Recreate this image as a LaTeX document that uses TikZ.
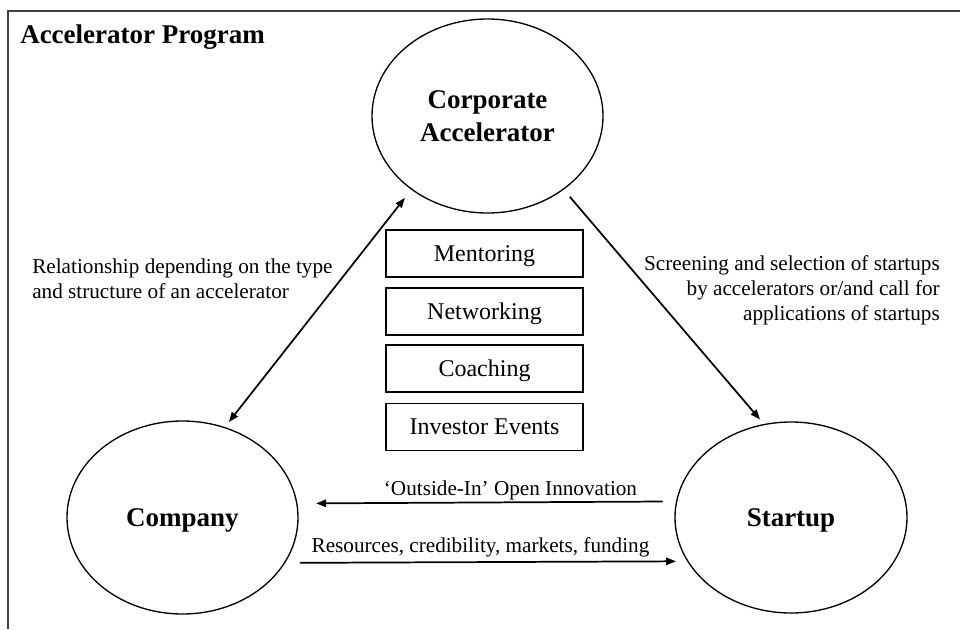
\documentclass[tikz,border=0pt]{standalone}
\usepackage{fontspec}
\setmainfont{Liberation Serif}
\usetikzlibrary{arrows.meta,shapes.geometric}
\begin{document}
\begin{tikzpicture}[x=0.75pt,y=-0.75pt,
  >={Triangle[length=7.5pt,width=5.5pt]},
  oval/.style={draw, ellipse, line width=1pt, inner sep=0pt, outer sep=0pt,
    text depth=0pt, align=center,
    font=\fontsize{20.25}{24.5}\selectfont\bfseries},
  item/.style={draw, line width=1.1pt, minimum width=147.75pt, minimum height=35.25pt,
    inner sep=0pt, text depth=0pt, font=\fontsize{18}{21}\selectfont},
  lbl/.style={inner sep=0pt, font=\fontsize{15.9}{18.6}\selectfont},
  conn/.style={line width=1.3pt},
]
\useasboundingbox (0,0) rectangle (960,629);
\draw[line width=1.2pt, black!75] (8,629) -- (8,11) -- (960,11);

\node[anchor=base west, inner sep=0pt, font=\fontsize{20.25}{24}\selectfont\bfseries]
  (title) at (20,43) {Accelerator Program};

\node[oval, minimum width=173.25pt, minimum height=145.5pt] (corp) at (487.5,116) {Corporate\\Accelerator};
\node[oval, minimum width=173.25pt, minimum height=144.75pt] (company) at (182.5,517.5) {Company};
\node[oval, minimum width=174pt, minimum height=143.25pt] (startup) at (791,517.5) {Startup};

\node[item] (b1) at (484.5,253.5) {Mentoring};
\node[item] (b2) at (484.5,311.5) {Networking};
\node[item] (b3) at (484.5,368.5) {Coaching};
\node[item] (b4) at (484.5,427) {Investor Events};

\node[lbl, anchor=west, align=left] (rel) at (32,278.5)
  {Relationship depending on the type\\and structure of an accelerator};
\node[lbl, anchor=east, align=right] (scr) at (940,290.5)
  {Screening and selection of startups\\by accelerators or/and call for\\applications of startups};
\node[lbl, anchor=base] (oi) at (510.5,495) {‘Outside-In’ Open Innovation};
\node[lbl, anchor=base] (res) at (480.5,552) {Resources, credibility, markets, funding};

\draw[conn, <->, shorten <=5.25pt, shorten >=8.25pt] (company.65.2) -- (corp.224.1);
\draw[conn, ->, shorten <=7.5pt, shorten >=5pt] (corp.316.2) -- (startup.106.9);
\draw[conn, ->, shorten <=10.5pt, shorten >=14.5pt] (startup.172.79) -- (company.7.24);
\draw[conn, ->, shorten <=11.6pt, shorten >=8.85pt] (company.336.11) -- (startup.203.86);
\end{tikzpicture}
\end{document}
